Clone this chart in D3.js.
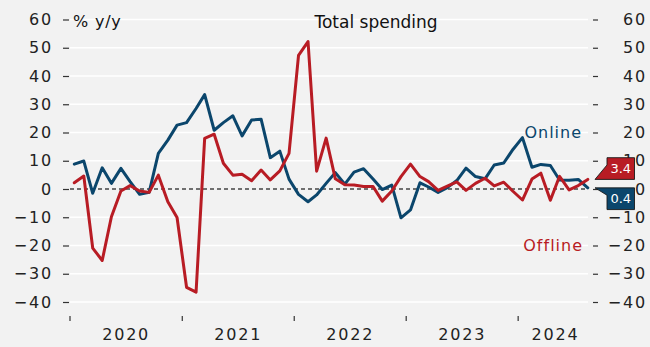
<!DOCTYPE html>
<html>
<head>
<meta charset="utf-8">
<script src="https://cdn.jsdelivr.net/npm/d3@7"></script>
<style>
  html, body { margin: 0; padding: 0; background: #f2f2f2; }
  svg { display: block; font-family: "DejaVu Sans", sans-serif; }
</style>
</head>
<body>
<svg id="chart" width="650" height="347"></svg>
<script>
// Monthly observations, Jan 2020 – Aug 2024 (% y/y)
const months = d3.range(56).map(i => new Date(2020, i, 15));

const online = [
  8.8, 9.9, -1.5, 7.5, 2.0, 7.3, 2.6, -1.9, -1.2, 12.6, 17.3, 22.6,
  23.5, 28.5, 33.4, 20.8, 23.5, 25.9, 18.8, 24.4, 24.7, 11.1, 13.4, 3.5,
  -1.9, -4.5, -2.1, 2.0, 5.8, 1.7, 6.0, 7.2, 3.5, -0.2, 1.4, -10.2,
  -7.4, 2.2, 0.7, -1.2, 0.5, 3.0, 7.4, 4.4, 3.6, 8.5, 9.2, 14.0,
  18.2, 7.7, 8.7, 8.3, 3.2, 3.1, 3.4, 0.4
];

const offline = [
  2.2, 4.6, -20.9, -25.3, -9.8, -0.7, 1.2, -0.7, -1.2, 4.9, -4.5, -10.1,
  -34.8, -36.5, 17.9, 19.4, 9.1, 4.9, 5.2, 2.9, 6.7, 3.2, 6.4, 12.6,
  47.3, 52.2, 6.3, 18.0, 3.6, 1.5, 1.4, 0.9, 0.9, -4.3, -0.7, 4.4,
  8.8, 4.4, 2.6, -0.5, 1.0, 2.5, -0.5, 2.0, 3.8, 1.1, 2.4, -0.8,
  -3.9, 3.5, 5.6, -4.0, 4.5, -0.3, 1.2, 3.4
];

const yTicks = [60, 50, 40, 30, 20, 10, 0, -10, -20, -30, -40];
const years = [2020, 2021, 2022, 2023, 2024];

const seriesNames = ["Online", "Offline"];
const seriesColors = ["#0b466c", "#b81c24"];

const svg = d3.select("#chart");
const W = 650, H = 347;

svg.append("rect").attr("width", W).attr("height", H).attr("fill", "#f2f2f2");

const x = d3.scaleTime()
  .domain([new Date(2020, 0, 1), new Date(2024, 8, 1)])
  .range([70, 593]);

const y = d3.scaleLinear()
  .domain([-40, 60])
  .range([302, 19.5]);

const gridLeft = 70, gridRight = 588;

// Horizontal gridlines
svg.append("g")
  .selectAll("line")
  .data(yTicks.filter(d => d !== 0))
  .join("line")
  .attr("x1", gridLeft).attr("x2", gridRight)
  .attr("y1", d => y(d)).attr("y2", d => y(d))
  .attr("stroke", "#ffffff")
  .attr("stroke-width", 1.6);

// Zero line
svg.append("line")
  .attr("x1", gridLeft).attr("x2", gridRight)
  .attr("y1", y(0)).attr("y2", y(0))
  .attr("stroke", "#444")
  .attr("stroke-width", 1.5)
  .attr("stroke-dasharray", "4,3");

const numFmt = d => d < 0 ? "\u2212" + Math.abs(d) : String(d);

// Left axis
const leftAxis = svg.append("g")
  .attr("transform", "translate(69,0)")
  .call(d3.axisLeft(y).tickValues(yTicks).tickSize(6).tickPadding(10).tickFormat(numFmt));
leftAxis.select(".domain").remove();
leftAxis.selectAll(".tick line").attr("stroke", "#333").attr("stroke-width", 1.2);
leftAxis.selectAll(".tick text")
  .attr("fill", "#222")
  .style("font-size", "16px")
  .style("letter-spacing", "1.8px")
  .style("font-family", "DejaVu Sans, sans-serif");

// Right axis
const rightAxis = svg.append("g")
  .attr("transform", "translate(593,0)")
  .call(d3.axisRight(y).tickValues(yTicks).tickSize(5).tickFormat(numFmt));
rightAxis.select(".domain").remove();
rightAxis.selectAll(".tick line").attr("stroke", "#333").attr("stroke-width", 1.2);
rightAxis.selectAll(".tick text")
  .attr("x", 54)
  .attr("text-anchor", "end")
  .attr("fill", "#222")
  .style("font-size", "16px")
  .style("letter-spacing", "1.8px")
  .style("font-family", "DejaVu Sans, sans-serif");

// Bottom axis: year boundary ticks, labels centred in each year
const yearStarts = years.map(yr => new Date(yr, 0, 1));
const bottom = svg.append("g");
bottom.selectAll("line")
  .data(yearStarts)
  .join("line")
  .attr("x1", d => x(d)).attr("x2", d => x(d))
  .attr("y1", 316).attr("y2", 321)
  .attr("stroke", "#333").attr("stroke-width", 1.2);

const xEnd = x.domain()[1];
bottom.selectAll("text")
  .data(years)
  .join("text")
  .attr("x", yr => {
    const a = x(new Date(yr, 0, 1));
    const b = x(d3.min([new Date(yr + 1, 0, 1), xEnd]));
    return (a + b) / 2;
  })
  .attr("y", 340)
  .attr("text-anchor", "middle")
  .attr("fill", "#222")
  .style("font-size", "16px")
  .style("letter-spacing", "1.8px")
  .text(d => d);

// Lines
const line = d3.line()
  .x((d, i) => x(months[i]))
  .y(d => y(d));

[online, offline].forEach((vals, k) => {
  svg.append("path")
    .datum(vals)
    .attr("d", line)
    .attr("fill", "none")
    .attr("stroke", seriesColors[k])
    .attr("stroke-width", 3)
    .attr("stroke-linejoin", "round")
    .attr("stroke-linecap", "round");
});

// Series labels
svg.append("text")
  .attr("x", 582).attr("y", 138)
  .attr("text-anchor", "end")
  .attr("fill", seriesColors[0])
  .style("font-size", "16px")
  .style("letter-spacing", "1px")
  .text(seriesNames[0]);

svg.append("text")
  .attr("x", 583).attr("y", 251)
  .attr("text-anchor", "end")
  .attr("fill", seriesColors[1])
  .style("font-size", "16px")
  .style("letter-spacing", "1px")
  .text(seriesNames[1]);

// Title and unit
svg.append("text")
  .attr("x", 376).attr("y", 28)
  .attr("text-anchor", "middle")
  .attr("fill", "#111")
  .style("font-size", "17px")
  .text("Total spending");

svg.append("text")
  .attr("x", 73).attr("y", 26.5)
  .attr("fill", "#111")
  .style("font-size", "16px")
  .style("letter-spacing", "0.8px")
  .text("% y/y");

// Latest-value tags at the right edge
const lastOn = online[online.length - 1];
const lastOff = offline[offline.length - 1];
const tags = [
  { value: lastOff, color: seriesColors[1] },
  { value: lastOn, color: seriesColors[0] }
].sort((a, b) => b.value - a.value);

const tipX = 595, boxL = 607, boxR = 634.5, boxH = 21.7, notch = 14.4, sep = 3.6;
const yUp = y(tags[0].value), yLo = y(tags[1].value);
const mid = (yUp + yLo) / 2;
tags[0].tip = Math.min(yUp, mid - sep / 2);
tags[1].tip = Math.max(yLo, mid + sep / 2);

tags.forEach((t, k) => {
  const g = svg.append("g");
  let pts, cy;
  if (k === 0) {
    // box above, pointer at lower-left corner
    const top = t.tip - boxH;
    pts = [[tipX, t.tip], [boxL, t.tip - notch], [boxL, top], [boxR, top], [boxR, t.tip]];
    cy = t.tip - boxH / 2;
  } else {
    // box below, pointer at upper-left corner
    const bot = t.tip + boxH;
    pts = [[tipX, t.tip], [boxR, t.tip], [boxR, bot], [boxL, bot], [boxL, t.tip + (boxH - notch) + (notch - (boxH - notch)) - 0]];
    pts[4] = [boxL, t.tip + (boxH - notch)];
    cy = t.tip + boxH / 2;
  }
  g.append("path")
    .attr("d", "M" + pts.map(p => p.join(",")).join("L") + "Z")
    .attr("fill", t.color)
    .attr("stroke", "#1a1a1a")
    .attr("stroke-width", 0.9);
  g.append("text")
    .attr("x", (boxL + boxR) / 2)
    .attr("y", cy)
    .attr("dy", "0.36em")
    .attr("text-anchor", "middle")
    .attr("fill", "#ffffff")
    .style("font-size", "13px")
    .text(d3.format(".1f")(t.value));
});
</script>
</body>
</html>
